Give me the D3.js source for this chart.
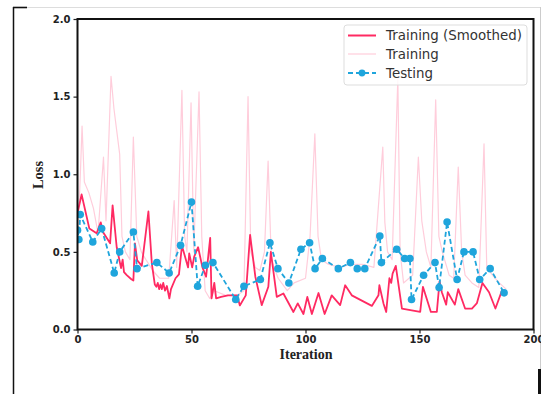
<!DOCTYPE html>
<html>
<head>
<meta charset="utf-8">
<script src="https://cdn.jsdelivr.net/npm/d3@7"></script>
<style>
  html, body { margin: 0; padding: 0; background: #fff; }
  svg { display: block; }
</style>
</head>
<body>
<svg id="chart" width="541" height="394"></svg>
<script>
// Training (smoothed) loss
const smoothIter = [0, 1.8, 5.2, 8.4, 10.2, 11.1, 14.3, 15.4, 17.2, 19.1, 19.8, 20.4, 21.6, 23.5, 24.5, 25.2, 26.2, 28.2, 31.1,
  32.6, 33.9, 34.6, 35.2, 35.8, 36.4, 37, 37.6, 38.4, 39.2, 40.3, 41, 43, 44.5, 45.8, 48.5, 49, 50.3, 51.2, 52.9, 54.8, 56.4,
  58.2, 58.8, 60, 60.8, 63, 66, 70, 71.2, 73.8, 75.7, 78, 80.8, 83.7, 84.8, 87.4, 90.3, 94.7, 96.6, 99.1, 100.8, 102.8, 105.7,
  108.4, 111.5, 115.2, 117.4, 120.3, 129.1, 132, 132.4, 134.2, 135.4, 136.8, 137.6, 138.2, 139.6, 142.3, 150.3, 151.5, 155,
  157.6, 158.8, 159.8, 161.7, 162.4, 165.5, 167, 170, 173, 175.2, 177.6, 180.5, 183.3, 186.4];
const smoothLoss = [0.75, 0.87, 0.65, 0.62, 0.69, 0.63, 0.555, 0.80, 0.53, 0.395, 0.45, 0.37, 0.35, 0.325, 0.315, 0.555, 0.445,
  0.41, 0.76, 0.425, 0.29, 0.275, 0.30, 0.26, 0.29, 0.26, 0.30, 0.25, 0.28, 0.20, 0.26, 0.33, 0.355, 0.54, 0.40, 0.49, 0.40,
  0.47, 0.53, 0.40, 0.34, 0.59, 0.20, 0.30, 0.20, 0.21, 0.22, 0.22, 0.155, 0.22, 0.61, 0.34, 0.157, 0.275, 0.50, 0.21, 0.232,
  0.113, 0.168, 0.10, 0.21, 0.10, 0.235, 0.10, 0.22, 0.157, 0.285, 0.22, 0.152, 0.22, 0.285, 0.168, 0.113, 0.33, 0.30, 0.36,
  0.41, 0.135, 0.113, 0.275, 0.113, 0.113, 0.31, 0.24, 0.16, 0.24, 0.16, 0.26, 0.135, 0.135, 0.17, 0.30, 0.24, 0.135, 0.26];

// Training loss (raw)
const rawIter = [0, 1, 2, 3, 5, 7, 9, 11.4, 12.5, 14.7, 16, 18.5, 19.5, 21, 23, 24.5, 26, 28, 30, 33, 36, 40, 42.4, 43.5,
  45.8, 47, 48, 49.8, 51, 53.3, 54.5, 56, 58, 60, 65, 70, 73, 74.8, 76, 78, 80, 82, 83.6, 85, 88, 92, 95, 100, 102, 104.1,
  105.5, 107, 110, 115, 120, 125, 130, 133.9, 134.8, 136, 138, 140.5, 141.5, 143, 147, 149.5, 151, 153, 155, 157.1, 158.5,
  160, 163, 165, 167, 168.5, 170, 173, 176, 178.3, 179.5, 182, 185, 188];
const rawLoss = [0.65, 0.9, 1.31, 0.95, 0.88, 0.78, 0.62, 1.11, 0.7, 1.63, 1.42, 1.13, 0.6, 0.5, 0.45, 1.24, 0.6, 0.5, 0.45,
  0.38, 0.33, 0.33, 0.83, 0.4, 1.54, 0.6, 0.5, 1.46, 0.5, 1.53, 0.6, 0.25, 0.2, 0.25, 0.22, 0.22, 0.25, 1.5, 0.5, 0.4, 0.38,
  0.5, 1.085, 0.45, 0.33, 0.25, 0.3, 0.33, 0.6, 1.26, 0.6, 0.45, 0.42, 0.4, 0.42, 0.42, 0.4, 1.175, 0.69, 0.5, 0.45, 1.62,
  0.5, 0.3, 0.35, 1.11, 0.7, 0.5, 0.4, 1.48, 0.6, 0.5, 0.35, 0.33, 1.046, 0.5, 0.35, 0.3, 0.27, 1.196, 0.4, 0.35, 0.3, 0.26];

// Testing loss
const testIter = [0, 0.6, 1.2, 6.7, 10.6, 16.1, 18.5, 24.5, 26.1, 34.8, 40.2, 45.2, 50, 52.7, 56.1, 59.4, 69.4, 73, 80.2,
  84.4, 87.9, 92.7, 98, 101.8, 104.2, 107.4, 114.4, 119.7, 122.7, 126, 132.6, 133.3, 140, 143.5, 145.8, 146.5, 151.8, 156.8,
  158.6, 162.1, 166.5, 169.5, 173.5, 176.4, 181, 187.1];
const testLoss = [0.64, 0.58, 0.74, 0.564, 0.65, 0.364, 0.5, 0.628, 0.392, 0.431, 0.364, 0.542, 0.821, 0.279, 0.414, 0.431,
  0.193, 0.279, 0.322, 0.559, 0.392, 0.30, 0.517, 0.559, 0.392, 0.457, 0.392, 0.431, 0.392, 0.392, 0.602, 0.431, 0.517, 0.457,
  0.457, 0.193, 0.349, 0.431, 0.27, 0.692, 0.322, 0.5, 0.5, 0.322, 0.392, 0.236];

const xTicks = [0, 50, 100, 150, 200];
const yTicks = [0, 0.5, 1.0, 1.5, 2.0];
const legendLabels = ["Training (Smoothed)", "Training", "Testing"];

const colSmooth = "#ff2a62";
const colRaw = "#ffcddb";
const colTest = "#1fa5dc";

const svg = d3.select("#chart");
const W = 541, H = 394;
const plot = { left: 77.5, right: 533.5, top: 19, bottom: 329.5 };

// outer frame of the figure panel
const frame = svg.append("g");
frame.append("line").attr("x1", 13.5).attr("x2", 13.5).attr("y1", 7).attr("y2", H)
  .attr("stroke", "#111").attr("stroke-width", 1.5);
frame.append("line").attr("x1", 13).attr("x2", W).attr("y1", 7.5).attr("y2", 7.5)
  .attr("stroke", "#ddd").attr("stroke-width", 1);
frame.append("line").attr("x1", 13).attr("x2", 27).attr("y1", 7.5).attr("y2", 7.5)
  .attr("stroke", "#111").attr("stroke-width", 1.6);
frame.append("line").attr("x1", 540.5).attr("x2", 540.5).attr("y1", 7).attr("y2", 369)
  .attr("stroke", "#ccc").attr("stroke-width", 1);
frame.append("rect").attr("x", 538).attr("y", 369).attr("width", 3).attr("height", H - 369)
  .attr("fill", "#111");

const x = d3.scaleLinear().domain([0, 200]).range([plot.left, plot.right]);
const y = d3.scaleLinear().domain([0, 2]).range([plot.bottom, plot.top]);

svg.append("defs").append("clipPath").attr("id", "clip")
  .append("rect").attr("x", plot.left).attr("y", plot.top)
  .attr("width", plot.right - plot.left).attr("height", plot.bottom - plot.top);

const g = svg.append("g").attr("clip-path", "url(#clip)");

const line = d3.line().x(d => x(d[0])).y(d => y(d[1]));

const rawData = rawIter.map((v, i) => [v, rawLoss[i]]);
const smoothData = smoothIter.map((v, i) => [v, smoothLoss[i]]);
const testData = testIter.map((v, i) => [v, testLoss[i]]);

g.append("path").datum(rawData).attr("d", line)
  .attr("fill", "none").attr("stroke", colRaw).attr("stroke-width", 1.2).attr("stroke-linejoin", "round");
g.append("path").datum(smoothData).attr("d", line)
  .attr("fill", "none").attr("stroke", colSmooth).attr("stroke-width", 1.8).attr("stroke-linejoin", "round");
g.append("path").datum(testData).attr("d", line)
  .attr("fill", "none").attr("stroke", colTest).attr("stroke-width", 1.8)
  .attr("stroke-dasharray", "5,3");
g.selectAll("circle.test").data(testData).enter().append("circle")
  .attr("class", "test")
  .attr("cx", d => x(d[0])).attr("cy", d => y(d[1])).attr("r", 3.8)
  .attr("fill", colTest);

// axes
const tickFont = "'DejaVu Sans', sans-serif";
const xAxis = d3.axisBottom(x).tickValues(xTicks).tickFormat(d3.format("d")).tickSize(4).tickPadding(2);
const yAxis = d3.axisLeft(y).tickValues(yTicks).tickFormat(d3.format(".1f")).tickSize(4).tickPadding(3);

const gx = svg.append("g").attr("transform", `translate(0,${plot.bottom})`).call(xAxis);
const gy = svg.append("g").attr("transform", `translate(${plot.left},0)`).call(yAxis);
[gx, gy].forEach(a => {
  a.select(".domain").remove();
  a.selectAll(".tick line").attr("stroke", "#222").attr("stroke-width", 1.2);
  a.selectAll(".tick text").attr("fill", "#222").style("font-family", tickFont)
    .style("font-size", "10px").style("font-weight", "bold");
});

// spines
svg.append("rect").attr("x", plot.left).attr("y", plot.top)
  .attr("width", plot.right - plot.left).attr("height", plot.bottom - plot.top)
  .attr("fill", "none").attr("stroke", "#111").attr("stroke-width", 2);

// axis titles
const serif = "'Liberation Serif', 'Times New Roman', serif";
svg.append("text").attr("x", 306).attr("y", 359).attr("text-anchor", "middle")
  .style("font-family", serif).style("font-size", "14px").style("font-weight", "bold")
  .attr("fill", "#222").text("Iteration");
svg.append("text").attr("transform", "translate(43,175) rotate(-90)").attr("text-anchor", "middle")
  .style("font-family", serif).style("font-size", "14.5px").style("font-weight", "bold")
  .attr("fill", "#222").text("Loss");

// legend
const lg = svg.append("g").attr("transform", "translate(344,25)");
lg.append("rect").attr("x", 0).attr("y", 0).attr("width", 183).attr("height", 60).attr("rx", 3)
  .attr("fill", "#fff").attr("fill-opacity", 0.85).attr("stroke", "#ddd").attr("stroke-width", 1);
const rows = [10.5, 29, 48];
legendLabels.forEach((lab, i) => {
  const ry = rows[i];
  const item = lg.append("g");
  if (i === 0) {
    item.append("line").attr("x1", 4).attr("x2", 32).attr("y1", ry).attr("y2", ry)
      .attr("stroke", colSmooth).attr("stroke-width", 2);
  } else if (i === 1) {
    item.append("line").attr("x1", 4).attr("x2", 32).attr("y1", ry).attr("y2", ry)
      .attr("stroke", colRaw).attr("stroke-width", 1.2);
  } else {
    item.append("line").attr("x1", 4).attr("x2", 32).attr("y1", ry).attr("y2", ry)
      .attr("stroke", colTest).attr("stroke-width", 1.8).attr("stroke-dasharray", "5,3");
    item.append("circle").attr("cx", 18).attr("cy", ry).attr("r", 3.4).attr("fill", colTest);
  }
  item.append("text").attr("x", 42).attr("y", ry).attr("dy", "0.35em")
    .style("font-family", tickFont).style("font-size", "13.4px").attr("fill", "#333").text(lab);
});
</script>
</body>
</html>
